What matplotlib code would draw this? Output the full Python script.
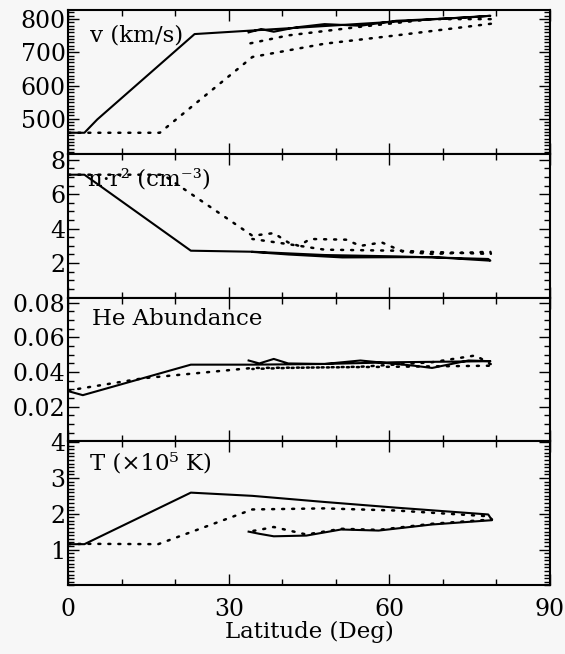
import numpy as np
import matplotlib
matplotlib.use("Agg")
from matplotlib import pyplot as plt
from matplotlib.ticker import MultipleLocator

plt.rcParams['font.family'] = ['DejaVu Serif']

# speed (km/s): model out and data back
v_solid_lat = [0, 3, 5.4, 23.6, 78.9, 74.8, 61.3, 54.6, 47.9, 45.2, 42.5, 38.4, 36, 33.7]
v_solid = [458, 458, 498, 755, 810, 805, 795, 780, 785, 780, 775, 762, 770, 760]
v_dot_lat = [0, 3, 17.1, 34.4, 47.9, 61.3, 79.5, 79, 68, 54.6, 41.1, 33.7]
v_dot = [458, 458, 458, 686, 726, 751, 787, 800, 800, 777, 751, 726]

# density n r^2
n_solid_lat = [0, 3, 22.9, 34.4, 47.9, 61.3, 78.5, 78.9, 68, 51.2, 41.1, 34.4]
n_solid = [7.13, 7.13, 2.72, 2.66, 2.47, 2.39, 2.24, 2.14, 2.35, 2.33, 2.5, 2.65]
n_dot_lat = [0, 3, 17.7, 34.4, 38.4, 41.1, 43.1, 45.2, 51.9, 54.6, 58.6, 62.6, 68,
             78.9, 79, 61.3, 47.9, 41.1, 34.4]
n_dot = [7.13, 7.13, 7.13, 3.59, 3.74, 3.2, 3.0, 3.4, 3.36, 3.0, 3.2, 2.66, 2.53,
         2.66, 2.53, 2.72, 2.78, 3.1, 3.4]

# He abundance
he_solid_lat = [0, 2.7, 22.9, 34.4, 47.9, 61.3, 78.9, 74.8, 68, 64.6, 54.6, 47.9,
                41.1, 38.4, 35.7, 33.7]
he_solid = [0.029, 0.0267, 0.0443, 0.0443, 0.0447, 0.0457, 0.0463, 0.0467, 0.0424,
            0.0437, 0.0467, 0.0447, 0.045, 0.0476, 0.045, 0.0467]
he_dot_lat = [0, 14.1, 34.4, 47.9, 61.3, 79.5, 76.1, 68, 54.6, 41.1, 34.4]
he_dot = [0.0294, 0.0365, 0.0424, 0.0427, 0.0431, 0.0437, 0.0496, 0.0457, 0.0431,
          0.0424, 0.0418]

# temperature (1e5 K)
t_solid_lat = [0, 3, 22.9, 34.4, 47.8, 61.3, 78.5, 79.2, 68, 58, 51, 44.5, 38.4, 35.7, 33.7]
t_solid = [1.15, 1.15, 2.59, 2.5, 2.33, 2.17, 1.98, 1.82, 1.70, 1.53, 1.56, 1.39,
           1.37, 1.44, 1.5]
t_dot_lat = [0, 3, 16.8, 34.4, 47.8, 61.3, 78.5, 79.2, 68, 58, 51, 44.5, 38.4, 35.7, 33.7]
t_dot = [1.15, 1.16, 1.15, 2.12, 2.15, 2.09, 1.93, 1.84, 1.72, 1.55, 1.58, 1.42,
         1.63, 1.55, 1.5]

panels = [
    (v_solid_lat, v_solid, v_dot_lat, v_dot, (395, 828), [500, 600, 700, 800], 10,
     'v (km/s)', ['500', '600', '700', '800'], (0.045, 0.82)),
    (n_solid_lat, n_solid, n_dot_lat, n_dot, (0, 8.35), [2, 4, 6, 8], 0.5,
     'n·r² (cm⁻³)', ['2', '4', '6', '8'], (0.04, 0.82)),
    (he_solid_lat, he_solid, he_dot_lat, he_dot, (0, 0.083), [0.02, 0.04, 0.06, 0.08], 0.005,
     'He Abundance', ['0.02', '0.04', '0.06', '0.08'], (0.05, 0.85)),
    (t_solid_lat, t_solid, t_dot_lat, t_dot, (0, 4.02), [1, 2, 3, 4], 0.1,
     'T (×10⁵ K)', ['1', '2', '3', '4'], (0.045, 0.85)),
]

bg = '#f7f7f7'
tick_fs = 17
text_fs = 16.5
fig, axes = plt.subplots(4, 1, figsize=(5.65, 6.54), dpi=100, sharex=True,
                         facecolor=bg)
fig.subplots_adjust(left=0.121, right=0.973, top=0.985, bottom=0.105, hspace=0)

for ax, (sx, sy, dx, dy, ylim, yt, ymin, label, ytl, pos) in zip(axes, panels):
    ax.set_facecolor(bg)
    ax.plot(sx, sy, color='black', lw=1.5)
    ax.plot(dx, dy, color='black', lw=1.8, linestyle=(0, (0.8, 3.2)),
            dash_capstyle='round')
    ax.set_xlim(0, 90)
    ax.set_ylim(*ylim)
    ax.set_yticks(yt)
    ax.set_yticklabels(ytl)
    ax.yaxis.set_minor_locator(MultipleLocator(ymin))
    ax.xaxis.set_major_locator(MultipleLocator(30))
    ax.xaxis.set_minor_locator(MultipleLocator(10))
    ax.tick_params(which='both', direction='in', top=True, right=True,
                   labelsize=tick_fs, width=1.0, pad=2)
    ax.tick_params(which='major', length=8)
    ax.tick_params(which='minor', length=4)
    for s in ax.spines.values():
        s.set_linewidth(1.5)
    ax.text(pos[0], pos[1], label, transform=ax.transAxes, fontsize=text_fs,
            va='center', ha='left')

axes[-1].set_xticks([0, 30, 60, 90])
axes[-1].set_xticklabels(['0', '30', '60', '90'])
axes[-1].tick_params(axis='x', pad=9)
axes[-1].set_xlabel('Latitude (Deg)', fontsize=text_fs, labelpad=0)

fig.savefig('out.png', dpi=100, facecolor=bg)
